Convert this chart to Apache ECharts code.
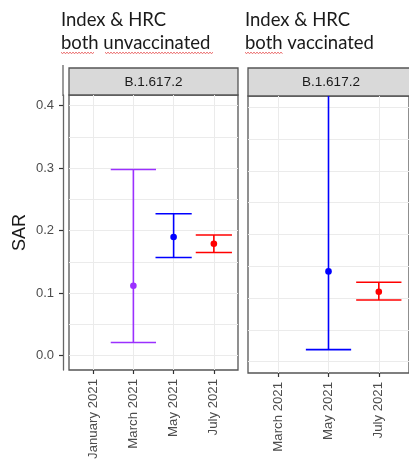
<!DOCTYPE html>
<html>
<head>
<meta charset="utf-8">
<script src="https://cdn.jsdelivr.net/npm/echarts@6/dist/echarts.min.js"></script>
<style>
html, body { margin: 0; padding: 0; background: #fff; }
#chart { width: 409px; height: 466px; }
</style>
</head>
<body>
<div id="chart"></div>
<script>
// months counted from Jan 2021 = 1
var leftTicks = [1, 3, 5, 7];
var rightTicks = [3, 5, 7];
var tickLabels = { 1: 'January 2021', 3: 'March 2021', 5: 'May 2021', 7: 'July 2021' };
var yTicks = [0, 0.1, 0.2, 0.3, 0.4];
var yMinor = [0.05, 0.15, 0.25, 0.35];

// both unvaccinated
var unvaxMonth = [3, 5, 7];
var unvaxSar = [0.112, 0.190, 0.179];
var unvaxLow = [0.021, 0.157, 0.165];
var unvaxHigh = [0.298, 0.227, 0.193];

// both vaccinated
var vaxMonth = [5, 7];
var vaxSar = [0.142, 0.110];
var vaxLow = [0.019, 0.097];
var vaxHigh = [0.62, 0.125];

var unvaxColors = ['#9b30ff', '#0000ff', '#ff0000'];
var unvaxCaps = [2.25, 1.8, 1.8];
var vaxColors = ['#0000ff', '#ff0000'];
var vaxCaps = [1.8, 1.8];

var labelFont = 'Liberation Sans';
var titleFont = 'Lato';

function rows(m, s, lo, hi) {
	return m.map(function (v, i) { return [v, s[i], lo[i], hi[i]]; });
}

function errRender(colors, caps) {
	return function (params, api) {
		var i = params.dataIndex;
		var x = api.value(0);
		var half = caps[i] / 2;
		var pMid = api.coord([x, api.value(1)]);
		var pLo = api.coord([x, api.value(2)]);
		var pHi = api.coord([x, api.value(3)]);
		var l = api.coord([x - half, 0])[0];
		var r = api.coord([x + half, 0])[0];
		var st = { stroke: colors[i], lineWidth: 1.6, fill: null };
		return {
			type: 'group',
			children: [
				{ type: 'line', shape: { x1: pLo[0], y1: pLo[1], x2: pHi[0], y2: pHi[1] }, style: st },
				{ type: 'line', shape: { x1: l, y1: pLo[1], x2: r, y2: pLo[1] }, style: st },
				{ type: 'line', shape: { x1: l, y1: pHi[1], x2: r, y2: pHi[1] }, style: st },
				{ type: 'circle', shape: { cx: pMid[0], cy: pMid[1], r: 3.3 }, style: { fill: colors[i] } }
			]
		};
	};
}

function xAxisOf(grid, min, max, ticks) {
	return {
		type: 'value',
		gridIndex: grid,
		min: min,
		max: max,
		axisLine: { show: false, onZero: false },
		axisTick: { show: true, customValues: ticks, length: 4, lineStyle: { color: '#333', width: 1.2 } },
		axisLabel: {
			customValues: ticks,
			rotate: 90,
			margin: 9,
			fontFamily: labelFont,
			fontSize: 13.2,
			color: '#4d4d4d',
			formatter: function (v) { return tickLabels[v]; }
		},
		splitLine: { show: true, lineStyle: { color: '#ebebeb', width: 1 } }
	};
}

function yAxisOf(grid, min, max, showLabels) {
	return {
		type: 'value',
		gridIndex: grid,
		min: min,
		max: max,
		offset: showLabels ? 6 : 0,
		axisLine: { show: showLabels, onZero: false, lineStyle: { color: '#666', width: 1.3 } },
		axisTick: { show: showLabels, customValues: yTicks, length: 4, lineStyle: { color: '#333', width: 1.2 } },
		axisLabel: {
			show: showLabels,
			customValues: yTicks,
			margin: 9,
			fontFamily: labelFont,
			fontSize: 13,
			color: '#4d4d4d',
			formatter: function (v) { return v.toFixed(1); }
		},
		splitLine: { show: true, lineStyle: { color: '#ebebeb', width: 1 } },
		name: showLabels ? 'SAR' : '',
		nameLocation: 'middle',
		nameGap: 34,
		nameTextStyle: { fontFamily: labelFont, fontSize: 18, color: '#1a1a1a' }
	};
}

function minorAxisOf(grid, min, max) {
	return {
		type: 'value',
		gridIndex: grid,
		min: min,
		max: max,
		position: 'right',
		axisLine: { show: false, onZero: false },
		axisTick: { show: false, customValues: yMinor },
		axisLabel: { show: false, customValues: yMinor },
		splitLine: { show: true, lineStyle: { color: '#ebebeb', width: 1 } }
	};
}

// red squiggle under words (spell-check marks in the source picture)
function squiggle(x0, x1, y) {
	var pts = [];
	for (var x = x0, k = 0; x <= x1; x += 1.5, k++) {
		pts.push([x, y + (k % 2 ? 1 : -0.2)]);
	}
	return { type: 'polyline', shape: { points: pts }, style: { stroke: '#e23b3b', lineWidth: 0.8, fill: null } };
}

var myChart = echarts.init(document.getElementById('chart'));

var titleStyle = { fontFamily: titleFont, fontSize: 18.5, fontWeight: 'normal', color: '#1a1a1a', lineHeight: 23 };
var stripText = { fontFamily: labelFont, fontSize: 13.5, fill: '#1a1a1a' };

var option = {
	animation: false,
	backgroundColor: '#fff',
	title: [
		{ text: 'Index & HRC\nboth unvaccinated', left: 61, top: 9, padding: 0, textStyle: titleStyle },
		{ text: 'Index & HRC\nboth vaccinated', left: 245, top: 9, padding: 0, textStyle: titleStyle }
	],
	grid: [
		{ left: 69, top: 95, width: 169, height: 275, show: true, borderColor: '#555', borderWidth: 1.3, backgroundColor: '#fff' },
		{ left: 248, top: 96, width: 166, height: 277, show: true, borderColor: '#555', borderWidth: 1.3, backgroundColor: '#fff' }
	],
	xAxis: [
		xAxisOf(0, -0.2, 8.2, leftTicks),
		xAxisOf(1, 1.8, 8.2, rightTicks)
	],
	yAxis: [
		yAxisOf(0, -0.0229, 0.4171, true),
		yAxisOf(1, -0.0178, 0.4178, false),
		minorAxisOf(0, -0.0229, 0.4171),
		minorAxisOf(1, -0.0178, 0.4178)
	],
	graphic: [
		{ type: 'line', shape: { x1: 63, y1: 65, x2: 63, y2: 96 }, style: { stroke: '#666', lineWidth: 1.3 } },
		{ type: 'rect', shape: { x: 69, y: 68, width: 169, height: 27 }, style: { fill: '#d9d9d9', stroke: '#555', lineWidth: 1.3 } },
		{ type: 'text', x: 153.5, y: 82, style: Object.assign({ text: 'B.1.617.2', align: 'center', verticalAlign: 'middle' }, stripText) },
		{ type: 'rect', shape: { x: 248, y: 68, width: 166, height: 28 }, style: { fill: '#d9d9d9', stroke: '#555', lineWidth: 1.3 } },
		{ type: 'text', x: 331, y: 82, style: Object.assign({ text: 'B.1.617.2', align: 'center', verticalAlign: 'middle' }, stripText) },
		squiggle(61, 94, 52.5),
		squiggle(105, 214, 52.5),
		squiggle(245, 283, 52.5)
	],
	series: [
		{
			type: 'custom',
			xAxisIndex: 0,
			yAxisIndex: 0,
			clip: true,
			data: rows(unvaxMonth, unvaxSar, unvaxLow, unvaxHigh),
			renderItem: errRender(unvaxColors, unvaxCaps)
		},
		{
			type: 'custom',
			xAxisIndex: 1,
			yAxisIndex: 1,
			clip: true,
			data: rows(vaxMonth, vaxSar, vaxLow, vaxHigh),
			renderItem: errRender(vaxColors, vaxCaps)
		}
	]
};

myChart.setOption(option);
</script>
</body>
</html>
